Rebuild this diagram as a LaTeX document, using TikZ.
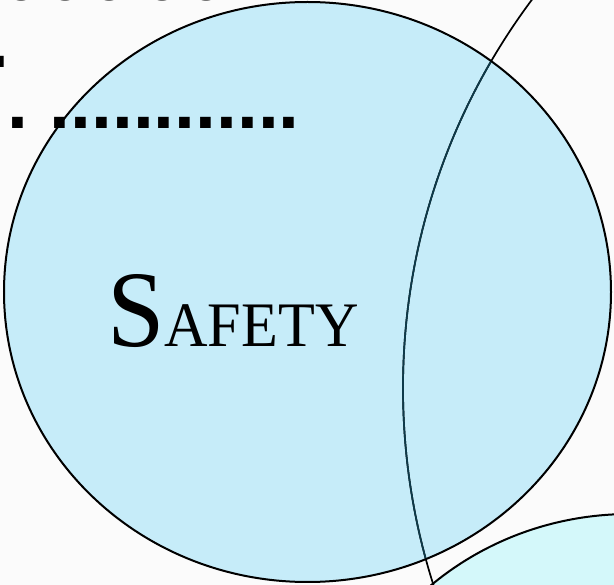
\documentclass[tikz,border=0pt]{standalone}
\usepackage{fontspec}
\setmainfont{Liberation Serif}
\newfontfamily\dotfont{Liberation Sans}
\usepackage{graphicx}
\definecolor{bgc}{HTML}{FBFBFB}
\definecolor{safetyblue}{HTML}{C6ECF9}
\definecolor{lightcyan}{HTML}{D4F8FA}
\definecolor{tealline}{HTML}{0D3A4A}
\tikzset{
  setline/.style={line width=2pt, draw=black},
  arcline/.style={line width=1.7pt},
  txt/.style={inner sep=0pt, outer sep=0pt, anchor=base west},
  fragtxt/.style={txt, font=\dotfont\bfseries\fontsize{56}{60}\selectfont},
}
\begin{document}
\begin{tikzpicture}[x=1pt,y=-1pt]
  \useasboundingbox (0,0) rectangle (614,585);
  \clip (0,0) rectangle (614,585);
  \fill[bgc] (0,0) rectangle (614,585);
  % cut-off title fragments at top
  \node[fragtxt] (frag1) at (5,0.6) {o};
  \node[fragtxt] (frag2) at (48,0.6) {o};
  \node[fragtxt] (frag3) at (92,0.6) {o};
  \node[fragtxt] (frag4) at (145,0.6) {o};
  \node[fragtxt] (frag5) at (189,0.6) {o};
  % bottom-right circle
  \path[fill=lightcyan, setline] (630,804) ellipse [x radius=303, y radius=290];
  % safety circle
  \path[fill=safetyblue, setline] (307.5,292) ellipse [x radius=303.5, y radius=290];
  % dotted text lines
  \node[txt] (dotsA) at (-12,68) {\dotfont\bfseries\fontsize{75}{80}\selectfont .};
  \node[txt] (dotsB) at (8,129) {\dotfont\bfseries\fontsize{75}{80}\selectfont .\ ............};
  % large right circle arc
  \draw[arcline, black] (1052,388) circle [radius=649];
  \begin{scope}
    \clip (307.5,292) ellipse [x radius=302.5, y radius=289];
    \draw[arcline, tealline] (1052,388) circle [radius=649];
  \end{scope}
  % label
  \node[txt] (safety) at (107,347) {\scalebox{0.95}[1]{\fontsize{108.8}{110}\selectfont S\fontsize{63.4}{66}\selectfont AFETY}};
\end{tikzpicture}
\end{document}
